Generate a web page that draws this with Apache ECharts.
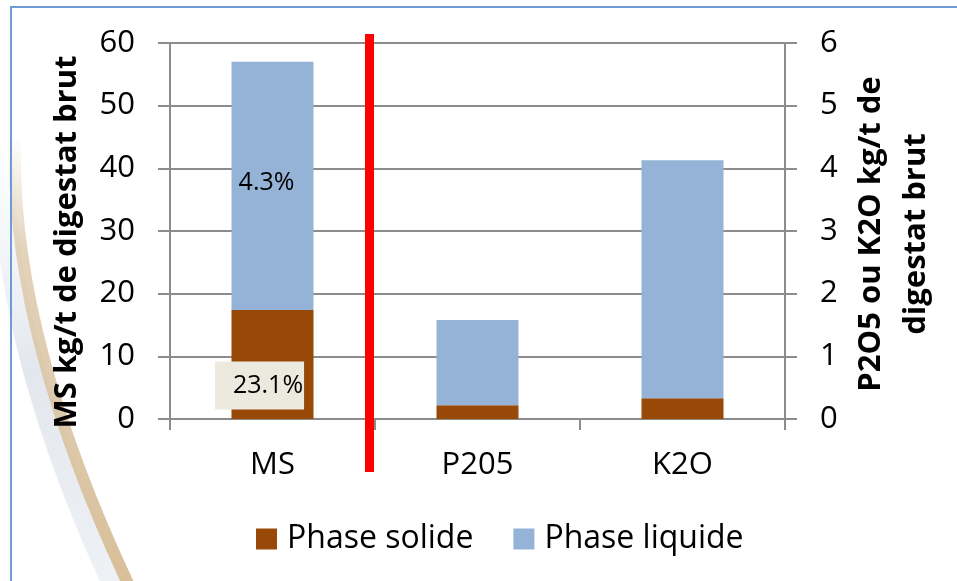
<!DOCTYPE html>
<html>
<head>
<meta charset="utf-8">
<script src="https://cdn.jsdelivr.net/npm/echarts@6/dist/echarts.min.js"></script>
<style>
html,body{margin:0;padding:0;background:#fff;}
#c{width:957px;height:581px;}
</style>
</head>
<body>
<div id="c"></div>
<script>
// ---- data ----
var categories = ['MS', 'P205', 'K2O'];
var solide = [17.4, 0.22, 0.33];     // Phase solide
var liquide = [39.6, 1.36, 3.8];     // Phase liquide
var axisOf = [0, 1, 1];              // 0 = left axis (MS), 1 = right axis (P2O5 / K2O)
var leftTicks = [0, 60, 10];         // min, max, interval
var rightTicks = [0, 6, 1];
var msSolideLabel = '23.1%';
var msLiquideLabel = '4.3%';
var seriesNames = ['Phase solide', 'Phase liquide'];
var leftTitle = 'MS kg/t de digestat brut';
var rightTitle = 'P2O5 ou K2O kg/t de\ndigestat brut';

var FONT = '"Open Sans", sans-serif';
var C_SOL = '#984807';
var C_LIQ = '#95B3D7';
var GRIDC = '#8C8C8C';

function pick(arr, ax) {
  return arr.map(function (v, i) { return axisOf[i] === ax ? v : '-'; });
}

var series = [];
[0, 1].forEach(function (ax) {
  series.push({
    name: seriesNames[0], type: 'bar', yAxisIndex: ax, stack: 's' + ax,
    barWidth: '40%', barGap: '-100%',
    itemStyle: { color: C_SOL },
    data: pick(solide, ax),
    label: ax === 0 ? {
      show: true, position: 'inside',
      formatter: function (p) { return p.dataIndex === 0 ? msSolideLabel : ''; },
      color: '#000', fontFamily: FONT, fontSize: 25,
      backgroundColor: '#ECEADF', padding: [12, 1, 11, 18],
      offset: [-13, 21]
    } : { show: false }
  });
  series.push({
    name: seriesNames[1], type: 'bar', yAxisIndex: ax, stack: 's' + ax,
    barWidth: '40%', barGap: '-100%',
    itemStyle: { color: C_LIQ },
    data: pick(liquide, ax),
    label: ax === 0 ? {
      show: true, position: 'inside',
      formatter: function (p) { return p.dataIndex === 0 ? msLiquideLabel : ''; },
      color: '#000', fontFamily: FONT, fontSize: 25, offset: [-6, -3]
    } : { show: false }
  });
});

var chart = echarts.init(document.getElementById('c'), null, { renderer: 'canvas' });
chart.setOption({
  backgroundColor: '#fff',
  animation: false,
  grid: { left: 170, right: 172, top: 43, bottom: 162, containLabel: false },
  legend: {
    data: seriesNames, left: 251, top: 518,
    itemWidth: 21, itemHeight: 21, itemGap: 40, icon: 'rect',
    textStyle: { fontFamily: FONT, fontSize: 32, color: '#000', padding: [0, 0, 0, 5] }
  },
  xAxis: {
    type: 'category', data: categories,
    axisLine: { lineStyle: { color: GRIDC, width: 2 } },
    axisTick: { show: true, length: 11, lineStyle: { color: GRIDC, width: 2 } },
    axisLabel: { fontFamily: FONT, fontSize: 31, color: '#000', margin: 31 }
  },
  yAxis: [{
    type: 'value', min: leftTicks[0], max: leftTicks[1], interval: leftTicks[2], position: 'left',
    axisLine: { show: true, lineStyle: { color: GRIDC, width: 2 } },
    axisTick: { show: true, length: 12, lineStyle: { color: GRIDC, width: 2 } },
    splitLine: { show: true, lineStyle: { color: GRIDC, width: 2 } },
    axisLabel: { fontFamily: FONT, fontSize: 31, color: '#000', margin: 35 }
  }, {
    type: 'value', min: rightTicks[0], max: rightTicks[1], interval: rightTicks[2], position: 'right',
    axisLine: { show: true, lineStyle: { color: GRIDC, width: 2 } },
    axisTick: { show: true, length: 12, lineStyle: { color: GRIDC, width: 2 } },
    splitLine: { show: false },
    axisLabel: { fontFamily: FONT, fontSize: 31, color: '#000', margin: 35 }
  }],
  series: series,
  graphic: [
    // decorative swoosh shadow + stripe
    { type: 'bezierCurve', z: -1, silent: true,
      shape: { x1: 4, y1: 150, cpx1: 0, cpy1: 340, x2: 116, y2: 590 },
      style: { stroke: new echarts.graphic.LinearGradient(0, 0, 0, 1, [
        { offset: 0, color: 'rgba(190,200,215,0)' }, { offset: 0.5, color: 'rgba(175,188,205,0.35)' }, { offset: 1, color: 'rgba(175,188,205,0.2)' }]),
        lineWidth: 22, fill: null } },
    { type: 'bezierCurve', z: -1, silent: true,
      shape: { x1: 15, y1: 140, cpx1: 10, cpy1: 335, x2: 131, y2: 590 },
      style: { stroke: new echarts.graphic.LinearGradient(0, 0, 0, 1, [
        { offset: 0, color: 'rgba(220,200,170,0)' }, { offset: 0.25, color: 'rgba(220,200,170,0.8)' }, { offset: 1, color: '#D8BE98' }]),
        lineWidth: 12, fill: null } },
    // frame border
    { type: 'polyline', silent: true, z: 5,
      shape: { points: [[11, 590], [11, 7], [960, 7]] },
      style: { stroke: '#6E9BD6', lineWidth: 2, fill: null } },
    // red separator
    { type: 'rect', silent: true, z: 10,
      shape: { x: 365, y: 34, width: 9, height: 438 },
      style: { fill: '#FF0000' } },
    // axis titles
    { type: 'text', x: 67, y: 242, rotation: Math.PI / 2, z: 10,
      style: { text: leftTitle, font: 'bold 31px ' + FONT, fill: '#000', align: 'center', verticalAlign: 'middle' } },
    { type: 'text', x: 894, y: 234, rotation: Math.PI / 2, z: 10,
      style: { text: rightTitle, font: 'bold 31px ' + FONT, fill: '#000', align: 'center', verticalAlign: 'middle', lineHeight: 45 } }
  ]
});
</script>
</body>
</html>
